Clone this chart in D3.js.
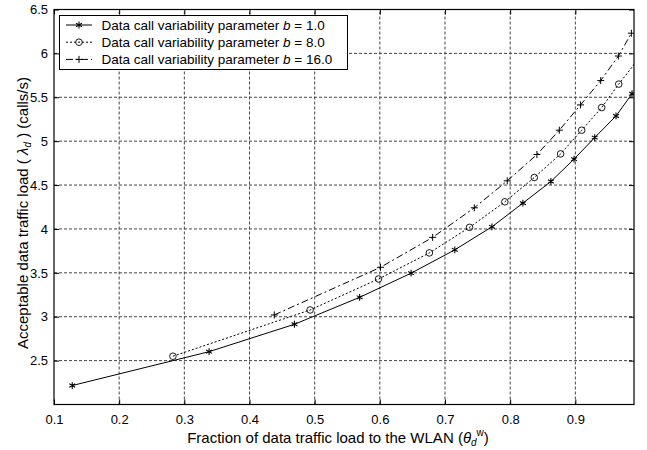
<!DOCTYPE html>
<html>
<head>
<meta charset="utf-8">
<script src="https://cdn.jsdelivr.net/npm/d3@7"></script>
<style>
  body { margin: 0; background: #fff; }
  svg { font-family: "Liberation Sans", Arial, Helvetica, sans-serif; }
  .tick text { font-size: 13px; fill: #000; }
  .grid line { stroke: #444; stroke-dasharray: 3,2; }
</style>
</head>
<body>
<svg id="chart" width="647" height="450"></svg>
<script>
// data
const b1_x = [0.128, 0.338, 0.469, 0.569, 0.648, 0.715, 0.772, 0.8195, 0.8625, 0.898, 0.9297, 0.9624, 0.987];
const b1_y = [2.216, 2.602, 2.914, 3.221, 3.496, 3.762, 4.024, 4.294, 4.541, 4.795, 5.041, 5.287, 5.54];
const b8_x = [0.2825, 0.493, 0.598, 0.676, 0.7376, 0.7918, 0.837, 0.8774, 0.9097, 0.9404, 0.9666, 0.996];
const b8_y = [2.55, 3.077, 3.43, 3.727, 4.018, 4.309, 4.586, 4.855, 5.125, 5.383, 5.65, 5.93];
const b16_x = [0.438, 0.601, 0.681, 0.745, 0.7955, 0.841, 0.8754, 0.908, 0.9389, 0.966, 0.986];
const b16_y = [3.02, 3.563, 3.904, 4.241, 4.548, 4.848, 5.125, 5.413, 5.69, 5.97, 6.23];
const x_ticks = [0.1, 0.2, 0.3, 0.4, 0.5, 0.6, 0.7, 0.8, 0.9];
const y_ticks = [2.5, 3, 3.5, 4, 4.5, 5, 5.5, 6, 6.5];
const legend_labels = ["1.0", "8.0", "16.0"];

const W = 647, H = 450;
const margin = {left: 54, right: 13, top: 9.5, bottom: 45.5};

const svg = d3.select("#chart");
const xScale = d3.scaleLinear().domain([0.1, 0.99]).range([margin.left, W - margin.right]);
const yScale = d3.scaleLinear().domain([2, 6.5]).range([H - margin.bottom, margin.top]);

svg.append("defs").append("clipPath").attr("id", "clip")
  .append("rect")
  .attr("x", margin.left).attr("y", margin.top)
  .attr("width", W - margin.left - margin.right)
  .attr("height", H - margin.top - margin.bottom);

// grid
let grid = svg.append("g").attr("class", "grid");
grid.selectAll(".gx").data(x_ticks.slice(1)).enter().append("line")
  .attr("x1", d => xScale(d)).attr("x2", d => xScale(d))
  .attr("y1", yScale(2)).attr("y2", yScale(6.5));
grid.selectAll(".gy").data(y_ticks.slice(0, -1)).enter().append("line")
  .attr("y1", d => yScale(d)).attr("y2", d => yScale(d))
  .attr("x1", xScale(0.1)).attr("x2", xScale(0.99));

// axes (inward ticks)
svg.append("g")
  .attr("transform", `translate(0,${H - margin.bottom})`)
  .call(d3.axisBottom(xScale).tickValues(x_ticks).tickSize(-5).tickPadding(10).tickFormat(d3.format(".1f")))
  .call(g => g.select(".domain").remove());
svg.append("g")
  .attr("transform", `translate(${margin.left},0)`)
  .call(d3.axisLeft(yScale).tickValues(y_ticks).tickSize(-5).tickPadding(6).tickFormat(d => d))
  .call(g => g.select(".domain").remove());
svg.append("g")
  .attr("transform", `translate(0,${margin.top})`)
  .call(d3.axisTop(xScale).tickValues(x_ticks).tickSize(-5).tickFormat(""))
  .call(g => g.select(".domain").remove());
svg.append("g")
  .attr("transform", `translate(${W - margin.right},0)`)
  .call(d3.axisRight(yScale).tickValues(y_ticks).tickSize(-5).tickFormat(""))
  .call(g => g.select(".domain").remove());
svg.selectAll(".tick line").attr("stroke", "#000");

// frame
svg.append("rect")
  .attr("x", margin.left).attr("y", margin.top)
  .attr("width", W - margin.left - margin.right)
  .attr("height", H - margin.top - margin.bottom)
  .attr("fill", "none").attr("stroke", "#000").attr("stroke-width", 1.2);

// series
const series = [
  {x: b1_x, y: b1_y, dash: null, marker: "star"},
  {x: b8_x, y: b8_y, dash: "2,2", marker: "circle"},
  {x: b16_x, y: b16_y, dash: "7,3,2,3", marker: "plus"}
];

function drawMarker(g, type, cx, cy) {
  if (type === "circle") {
    g.append("circle").attr("cx", cx).attr("cy", cy).attr("r", 3.3)
      .attr("fill", "none").attr("stroke", "#000").attr("stroke-width", 0.9);
  } else if (type === "plus") {
    let r = 3.5;
    g.append("path").attr("d", `M${cx - r},${cy}H${cx + r}M${cx},${cy - r}V${cy + r}`)
      .attr("stroke", "#000").attr("stroke-width", 1).attr("fill", "none");
  } else {
    // asterisk: three strokes
    let r = 3.4, p = "";
    [90, 30, -30].forEach(a => {
      let dx = r * Math.cos(a * Math.PI / 180), dy = r * Math.sin(a * Math.PI / 180);
      p += `M${cx - dx},${cy - dy}L${cx + dx},${cy + dy}`;
    });
    g.append("path").attr("d", p).attr("stroke", "#000").attr("stroke-width", 1.1).attr("fill", "none");
  }
}

let line = d3.line().x(d => xScale(d[0])).y(d => yScale(d[1]));
let plot = svg.append("g").attr("clip-path", "url(#clip)");
series.forEach(s => {
  let pts = s.x.map((v, i) => [v, s.y[i]]);
  plot.append("path").datum(pts).attr("d", line)
    .attr("fill", "none").attr("stroke", "#000").attr("stroke-width", 1)
    .attr("stroke-dasharray", s.dash);
  pts.filter(d => d[0] <= 0.99).forEach(d => drawMarker(plot, s.marker, xScale(d[0]), yScale(d[1])));
});

// legend
let lg = svg.append("g");
lg.append("rect").attr("x", 59.5).attr("y", 15.5).attr("width", 288).attr("height", 54)
  .attr("fill", "#fff").attr("stroke", "#000").attr("stroke-width", 1);
series.forEach((s, i) => {
  let cy = 25 + i * 17.2;
  lg.append("line").attr("x1", 66).attr("x2", 92).attr("y1", cy).attr("y2", cy)
    .attr("stroke", "#000").attr("stroke-width", 1).attr("stroke-dasharray", s.dash);
  drawMarker(lg, s.marker, 79, cy);
  let t = lg.append("text").attr("x", 101.5).attr("y", cy + 4.8).attr("font-size", "13.5px");
  t.append("tspan").text("Data call variability parameter  ");
  t.append("tspan").attr("font-style", "italic").text("b");
  t.append("tspan").text(" = " + legend_labels[i]);
});

// axis labels
let xl = svg.append("text").attr("x", 338).attr("y", 443).attr("text-anchor", "middle").attr("font-size", "15px");
xl.append("tspan").text("Fraction of data traffic load to the WLAN (");
xl.append("tspan").attr("font-style", "italic").text("θ");
xl.append("tspan").attr("font-size", "10px").attr("dy", 3).attr("font-style", "italic").text("d");
xl.append("tspan").attr("font-size", "10px").attr("dy", -10).text("w");
xl.append("tspan").attr("dy", 7).text(")");

let yl = svg.append("text").attr("transform", "translate(28,213) rotate(-90)")
  .attr("text-anchor", "middle").attr("font-size", "15px");
yl.append("tspan").text("Acceptable data traffic load (  ");
yl.append("tspan").attr("font-style", "italic").text("λ");
yl.append("tspan").attr("font-size", "10px").attr("dy", 3).attr("font-style", "italic").text("d");
yl.append("tspan").attr("dy", -3).text("  ) (calls/s)");
</script>
</body>
</html>
